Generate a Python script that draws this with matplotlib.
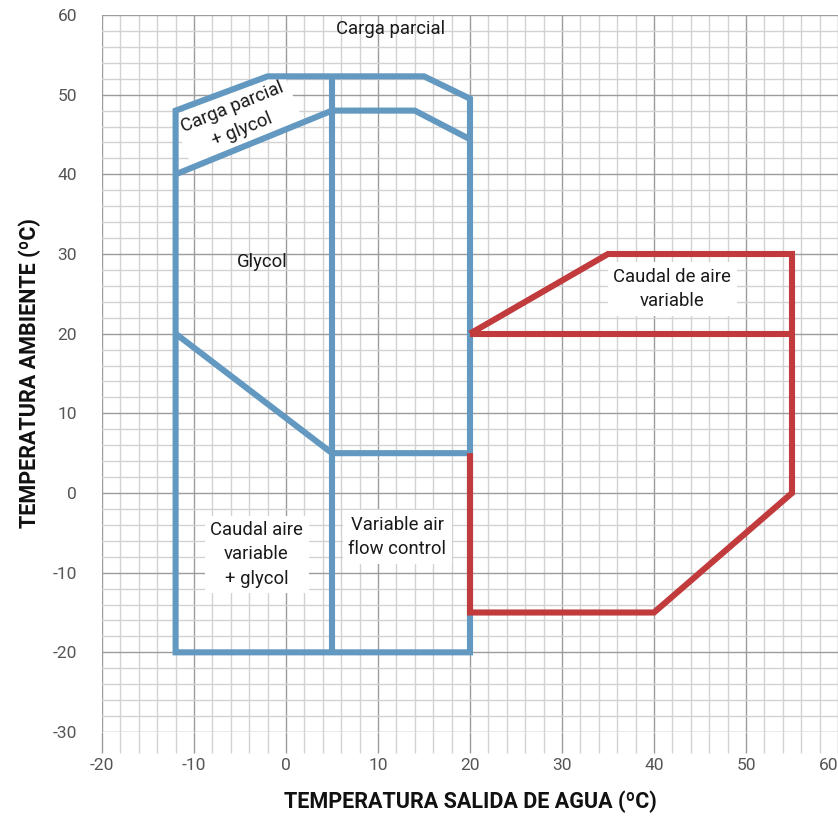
import matplotlib
matplotlib.use("Agg")
import matplotlib.pyplot as plt
from matplotlib.ticker import MultipleLocator
from matplotlib.patches import Polygon

plt.rcParams['font.family'] = ['Roboto', 'DejaVu Sans']
plt.rcParams['axes.unicode_minus'] = False

# Blue envelope (x = water outlet temp, y = ambient temp)
blue_outer_x = [-12, -12, -2, 15, 20, 20]
blue_outer_y = [-20, 48, 52.3, 52.3, 49.5, -20]
blue_mid_x = [-12, 5, 14, 20]
blue_mid_y = [40, 48, 48, 44.4]
blue_vert_x = [5, 5]
blue_vert_y = [52.3, -20]
blue_low_x = [-12, 5, 20]
blue_low_y = [20, 5, 5]

# Red envelope
red_outer_x = [20, 20, 40, 55, 55, 35, 20]
red_outer_y = [5, -15, -15, 0, 30, 30, 20]
red_mid_x = [20, 55]
red_mid_y = [20, 20]

labels = ["Carga parcial", "Carga parcial\n+ glycol", "Glycol",
          "Caudal aire\nvariable\n+ glycol", "Variable air\nflow control",
          "Caudal de aire\nvariable"]
label_x = [11.4, -5.3, -2.6, -3.2, 12.1, 42.0]
label_y = [58.2, 47.0, 29.0, -7.7, -5.5, 25.6]
label_rot = [0, 22, 0, 0, 0, 0]
label_bg = [False, True, False, True, True, True]

x_ticks = list(range(-20, 61, 10))
y_ticks = list(range(-30, 61, 10))

BLUE = '#6399c0'
RED = '#c13a3c'

fig = plt.figure(figsize=(8.38, 8.16), dpi=100)
ax = fig.add_axes([102/838, 1-732/816, 736/838, 717/816])
ax.set_xlim(-20, 60)
ax.set_ylim(-30, 60)

ax.xaxis.set_minor_locator(MultipleLocator(2))
ax.yaxis.set_minor_locator(MultipleLocator(2))
ax.set_xticks(x_ticks)
ax.set_yticks(y_ticks)
ax.grid(which='major', color='#9c9c9c', lw=1.0, zorder=0)
ax.grid(which='minor', color='#d2d2d2', lw=1.0, zorder=0)
ax.set_axisbelow(True)
for s in ax.spines.values():
    s.set_visible(False)
ax.tick_params(axis='x', which='major', length=15, color='#9c9c9c', width=1,
               labelsize=12.5, labelcolor='#555555', pad=4)
ax.tick_params(axis='x', which='minor', length=15, color='#d2d2d2', width=1)
ax.tick_params(axis='y', which='both', length=0, labelsize=12.5,
               labelcolor='#555555', pad=18)
ax.get_xticklabels()[-1].set_horizontalalignment('right')

lw = 4.4
kw = dict(lw=lw, solid_joinstyle='miter', solid_capstyle='butt', zorder=3)
ax.add_patch(Polygon(list(zip(blue_outer_x, blue_outer_y)), closed=True,
                     fill=False, edgecolor=BLUE, lw=lw, joinstyle='miter', zorder=3))
ax.plot(blue_mid_x, blue_mid_y, color=BLUE, **kw)
ax.plot(blue_vert_x, blue_vert_y, color=BLUE, **kw)
ax.plot(blue_low_x, blue_low_y, color=BLUE, **kw)
ax.plot(red_outer_x, red_outer_y, color=RED, **kw)
ax.plot(red_mid_x, red_mid_y, color=RED, **kw)

for t, x, y, r, bg in zip(labels, label_x, label_y, label_rot, label_bg):
    bbox = dict(facecolor='white', edgecolor='none', pad=4) if bg else None
    ax.text(x, y, t, ha='center', va='center', rotation=r, fontsize=13.3,
            color='#1a1a1a', linespacing=1.45, bbox=bbox, zorder=2.5,
            rotation_mode='anchor')

ax.set_xlabel("TEMPERATURA SALIDA DE AGUA (ºC)", fontsize=15.5, fontweight='bold',
              color='#111111', labelpad=12)
ax.set_ylabel("TEMPERATURA AMBIENTE (ºC)", fontsize=15.5, fontweight='bold',
              color='#111111', labelpad=8)

fig.savefig("out.png", dpi=100)
